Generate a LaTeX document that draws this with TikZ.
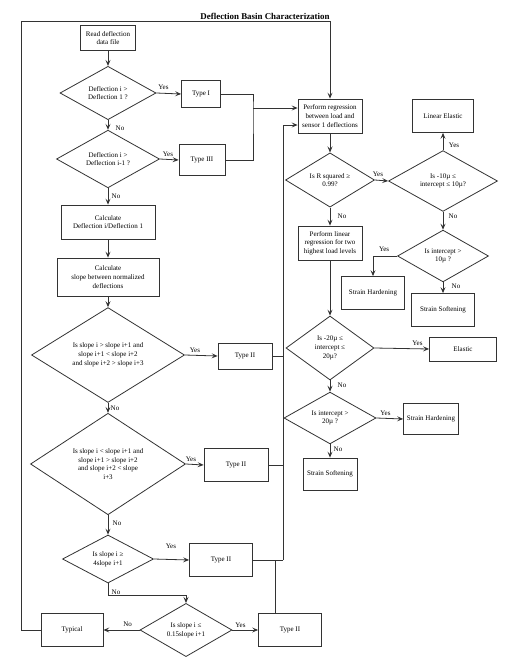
\documentclass[tikz,border=0pt]{standalone}
\usepackage{fontspec}
\setmainfont{Liberation Serif}
\usetikzlibrary{shapes.geometric,arrows.meta,calc}
\begin{document}
\begin{tikzpicture}[x=1pt,y=-1pt,
  every node/.style={font=\fontsize{7}{8.7}\selectfont, text=black},
  box/.style={draw=black!80, line width=0.8pt, rectangle, inner sep=0pt, align=center},
  dia/.style={draw=black!80, line width=0.8pt, diamond, inner sep=0pt, align=center},
  line/.style={draw=black!80, line width=0.8pt},
  arr/.style={line, -{Stealth[length=6pt,width=5pt,inset=2.5pt]}},
  lbl/.style={inner sep=0pt}
]
\useasboundingbox[fill=white] (0,0) rectangle (515,672);

\node[font=\fontsize{8.9}{10}\selectfont\bfseries] (title) at (265,16) {Deflection Basin Characterization};

% left column
\node[box, minimum width=55pt, minimum height=25pt] (read) at (108,38) {Read deflection\\data file};
\node[dia, minimum width=96pt, minimum height=50pt] (d1) at (108,93) {Deflection i \textgreater\\Deflection 1 ?};
\node[box, minimum width=39pt, minimum height=27pt] (type1) at (201,94) {Type I};
\node[dia, minimum width=103pt, minimum height=52pt] (d2) at (108,159) {Deflection i \textgreater\\Deflection i-1 ?};
\node[box, minimum width=46pt, minimum height=31pt] (type3) at (202,160) {Type III};
\node[box, minimum width=94pt, minimum height=34pt] (calc1) at (108,222) {Calculate\\Deflection i/Deflection 1};
\node[box, minimum width=102pt, minimum height=38pt] (calc2) at (108,277) {Calculate\\slope between normalized\\deflections};
\node[dia, minimum width=153pt, minimum height=89pt] (d3) at (108,355) {Is slope i \textgreater{} slope i+1 and\\slope i+1 \textless{} slope i+2\\and slope i+2 \textgreater{} slope i+3};
\node[box, minimum width=54pt, minimum height=26pt] (t2a) at (245,356) {Type II};
\node[dia, minimum width=155pt, minimum height=91pt] (d4) at (108,464) {Is slope i \textless{} slope i+1 and\\slope i+1 \textgreater{} slope i+2\\and slope i+2 \textless{} slope\\i+3};
\node[box, minimum width=64pt, minimum height=33pt] (t2b) at (236,465) {Type II};
\node[dia, minimum width=91pt, minimum height=48pt] (d5) at (108,559) {Is slope i ≥\\4slope i+1};
\node[box, minimum width=63pt, minimum height=33pt] (t2c) at (221,560) {Type II};
\node[dia, minimum width=92pt, minimum height=49pt] (d6) at (186,630) {Is slope i ≤\\0.15slope i+1};
\node[box, minimum width=62pt, minimum height=33pt] (typical) at (72,630) {Typical};
\node[box, minimum width=63pt, minimum height=33pt] (t2d) at (290,630) {Type II};

% right column
\node[box, minimum width=64pt, minimum height=34pt] (perform) at (330,116) {Perform regression\\between load and\\sensor 1 deflections};
\node[dia, minimum width=89pt, minimum height=47pt] (dR) at (330,180) {Is R squared ≥\\0.99?};
\node[dia, minimum width=109pt, minimum height=58pt] (d10) at (443,181) {Is -10µ ≤\\intercept ≤ 10µ?};
\node[box, minimum width=61pt, minimum height=33pt] (linear) at (443,116) {Linear Elastic};
\node[box, minimum width=64pt, minimum height=34pt] (plin) at (330,243) {Perform linear\\regression for two\\highest load levels};
\node[dia, minimum width=91pt, minimum height=49pt] (d10b) at (443,256) {Is intercept \textgreater\\10µ ?};
\node[box, minimum width=63pt, minimum height=33pt] (sh1) at (373,293) {Strain Hardening};
\node[box, minimum width=63pt, minimum height=33pt] (ss1) at (443,310) {Strain Softening};
\node[dia, minimum width=88pt, minimum height=64pt] (d20) at (330,348) {Is -20µ ≤\\intercept ≤\\20µ?};
\node[box, minimum width=67pt, minimum height=24pt] (elastic) at (463,349) {Elastic};
\node[dia, minimum width=92pt, minimum height=49pt] (d20b) at (330,418) {Is intercept \textgreater\\20µ ?};
\node[box, minimum width=55pt, minimum height=31pt] (sh2) at (431,419) {Strain Hardening};
\node[box, minimum width=54pt, minimum height=32pt] (ss2) at (330,474) {Strain Softening};

% helper coordinates
\coordinate (j1) at (253,108);
\coordinate (busx) at (283,0);
\coordinate (bustop) at (283,125);
\coordinate (busbot) at (283,560);
\coordinate (t2dx) at (275,0);
\coordinate (loopx) at (21,21);
\coordinate (d5knee) at (108,595);

% left connectors
\draw[arr] (read) -- (d1);
\draw[arr] (d1.east) -- (type1.west);
\draw[arr] (d1.south) -- (d2.north);
\draw[arr] (d2.east) -- (type3.west);
\draw[arr] (d2.south) -- (calc1.north);
\draw[arr] (calc1) -- (calc2);
\draw[arr] (calc2.south) -- (d3.north);
\draw[arr] (d3.east) -- (t2a.west);
\draw[arr] (d3.south) -- (d4.north);
\draw[arr] (d4.east) -- (t2b.west);
\draw[arr] (d4.south) -- (d5.north);
\draw[arr] (d5.east) -- (t2c.west);
\draw[arr] (d5.south) -- (d5knee) -| (d6.north);
\draw[arr] (d6.east) -- (t2d.west);
\draw[arr] (d6.west) -- (typical.east);

% merge Type I / Type III
\draw[line] (type1.east) -| (j1) |- (type3.east);
\draw[arr] (j1) -- (j1 -| perform.west);

% loop back
\draw[arr] (typical.west) -| (loopx) -| (perform.north);

% bus from Type II boxes
\draw[arr] (busbot) -- (bustop) -- (bustop -| perform.west);
\draw[line] (t2a.east) -- (t2a.east -| busx);
\draw[line] (t2b.east) -- (t2b.east -| busx);
\draw[line] (t2c.east) -- (busbot);
\draw[line] (t2d.north -| t2dx) -- (t2c.east -| t2dx);

% right connectors
\draw[arr] (perform.south) -- (dR.north);
\draw[arr] (dR.east) -- (d10.west);
\draw[arr] (d10.north) -- (linear.south);
\draw[arr] (dR.south) -- (plin.north);
\draw[arr] (d10.south) -- (d10b.north);
\draw[arr] (d10b.west) -| (sh1.north);
\draw[arr] (d10b.south) -- (ss1.north);
\draw[arr] (plin.south) -- (d20.north);
\draw[arr] (d20.east) -- (elastic.west);
\draw[arr] (d20.south) -- (d20b.north);
\draw[arr] (d20b.east) -- (sh2.west);
\draw[arr] (d20b.south) -- (ss2.north);

% labels
\node[lbl] at ($(d1.east)+(7,-6)$) {Yes};
\node[lbl] at ($(d1.south)+(12,8)$) {No};
\node[lbl] at ($(d2.east)+(8,-5)$) {Yes};
\node[lbl] at ($(d2.south)+(8,8)$) {No};
\node[lbl] at ($(d3.east)+(10,-5)$) {Yes};
\node[lbl] at ($(d3.south)+(7,5)$) {No};
\node[lbl] at ($(d4.east)+(5,-5)$) {Yes};
\node[lbl] at ($(d4.south)+(9,8)$) {No};
\node[lbl] at ($(d5.east)+(17,-13)$) {Yes};
\node[lbl] at ($(d5.south)+(8,9)$) {No};
\node[lbl] at ($(d6.east)+(8,-5)$) {Yes};
\node[lbl] at ($(d6.west)+(-12,-6)$) {No};
\node[lbl] at ($(dR.east)+(3,-6)$) {Yes};
\node[lbl] at ($(dR.south)+(12,9)$) {No};
\node[lbl] at ($(d10.north)+(11,-5)$) {Yes};
\node[lbl] at ($(d10.south)+(10,4)$) {No};
\node[lbl] at ($(d10b.west)+(-13,-7)$) {Yes};
\node[lbl] at ($(d10b.south)+(13,4)$) {No};
\node[lbl] at ($(d20.east)+(43,-5)$) {Yes};
\node[lbl] at ($(d20.south)+(12,5)$) {No};
\node[lbl] at ($(d20b.east)+(9,-5)$) {Yes};
\node[lbl] at ($(d20b.south)+(8,5)$) {No};
\end{tikzpicture}
\end{document}
